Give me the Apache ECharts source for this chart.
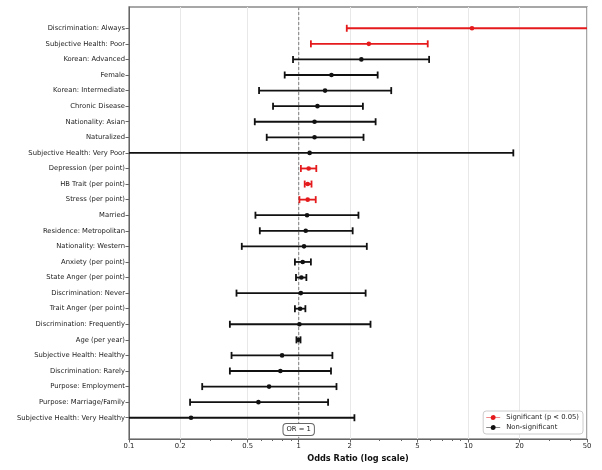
<!DOCTYPE html>
<html>
<head>
<meta charset="utf-8">
<script src="https://cdn.jsdelivr.net/npm/echarts@6/dist/echarts.min.js"></script>
<style>
html,body{margin:0;padding:0;background:#fff;}
#chart{width:602px;height:470px;}
</style>
</head>
<body>
<div id="chart"></div>
<script>
// ---- data (top to bottom) ----
var categories = [
  'Discrimination: Always',
  'Subjective Health: Poor',
  'Korean: Advanced',
  'Female',
  'Korean: Intermediate',
  'Chronic Disease',
  'Nationality: Asian',
  'Naturalized',
  'Subjective Health: Very Poor',
  'Depression (per point)',
  'HB Trait (per point)',
  'Stress (per point)',
  'Married',
  'Residence: Metropolitan',
  'Nationality: Western',
  'Anxiety (per point)',
  'State Anger (per point)',
  'Discrimination: Never',
  'Trait Anger (per point)',
  'Discrimination: Frequently',
  'Age (per year)',
  'Subjective Health: Healthy',
  'Discrimination: Rarely',
  'Purpose: Employment',
  'Purpose: Marriage/Family',
  'Subjective Health: Very Healthy'
];
var oddsRatio = [10.5, 2.59, 2.34, 1.56, 1.43, 1.29, 1.24, 1.24, 1.16, 1.145, 1.13, 1.13, 1.12, 1.10, 1.075, 1.056, 1.037, 1.03, 1.02, 1.01, 0.995, 0.798, 0.78, 0.669, 0.579, 0.232];
var ciLower   = [1.92, 1.18, 0.926, 0.827, 0.584, 0.706, 0.551, 0.648, 0.05, 1.03, 1.085, 1.01, 0.556, 0.590, 0.462, 0.95, 0.964, 0.43, 0.95, 0.393, 0.97, 0.402, 0.393, 0.27, 0.229, 0.05];
var ciUpper   = [60, 5.76, 5.87, 2.92, 3.51, 2.39, 2.84, 2.41, 18.4, 1.27, 1.19, 1.26, 2.25, 2.08, 2.52, 1.18, 1.11, 2.48, 1.095, 2.65, 1.025, 1.58, 1.55, 1.67, 1.49, 2.13];
var significant = [true, true, false, false, false, false, false, false, false, true, true, true, false, false, false, false, false, false, false, false, false, false, false, false, false, false];
var tickValues = [0.1, 0.2, 0.5, 1, 2, 5, 10, 20, 50];
var tickLabels = ['0.1', '0.2', '0.5', '1', '2', '5', '10', '20', '50'];
var minorTickValues = [0.3, 0.4, 0.6, 0.7, 0.8, 0.9, 3, 4, 6, 7, 8, 9, 30, 40];
var referenceOR = 1;
var seriesNames = ['Significant (p < 0.05)', 'Non-significant'];
var seriesColors = ['#e41a1c', '#111111'];

// ---- build ----
var L = Math.log10;
var xMin = L(0.1), xMax = L(50);
var nRows = categories.length;
var pad = 1.365;

function rows(sig) {
  var out = [];
  for (var i = 0; i < nRows; i++) {
    if (significant[i] === sig) out.push([L(ciLower[i]), L(ciUpper[i]), L(oddsRatio[i]), i]);
  }
  return out;
}

function makeRender(color) {
  return function (params, api) {
    var lo = api.coord([api.value(0), api.value(3)]);
    var hi = api.coord([api.value(1), api.value(3)]);
    var pt = api.coord([api.value(2), api.value(3)]);
    var cap = 3.5;
    var ls = {stroke: color, lineWidth: 1.8};
    return {
      type: 'group',
      children: [
        {type: 'line', shape: {x1: lo[0], y1: lo[1], x2: hi[0], y2: hi[1]}, style: ls},
        {type: 'line', shape: {x1: lo[0], y1: lo[1] - cap, x2: lo[0], y2: lo[1] + cap}, style: ls},
        {type: 'line', shape: {x1: hi[0], y1: hi[1] - cap, x2: hi[0], y2: hi[1] + cap}, style: ls},
        {type: 'circle', shape: {cx: pt[0], cy: pt[1], r: 2.3}, style: {fill: color}}
      ]
    };
  };
}

function fmtTick(v) {
  for (var i = 0; i < tickValues.length; i++) {
    if (Math.abs(L(tickValues[i]) - v) < 1e-6) return tickLabels[i];
  }
  return '';
}

var font = 'DejaVu Sans';
var fs = 6.8;
var chart = echarts.init(document.getElementById('chart'), null, {renderer: 'canvas'});
var option = {
  animation: false,
  backgroundColor: '#ffffff',
  textStyle: {fontFamily: font},
  grid: {left: 129, right: 15, top: 7, bottom: 31, show: true, borderColor: '#8a8a8a', borderWidth: 1.5, backgroundColor: 'transparent'},
  xAxis: [{
    type: 'value', min: xMin, max: xMax,
    name: 'Odds Ratio (log scale)', nameLocation: 'middle', nameGap: 15,
    nameTextStyle: {fontFamily: font, fontWeight: 'bold', fontSize: 8.2, color: '#111'},
    axisLine: {show: true, onZero: false, lineStyle: {color: '#666', width: 1}},
    axisTick: {show: true, length: 3.5, customValues: tickValues.map(L), lineStyle: {color: '#666'}},
    axisLabel: {customValues: tickValues.map(L), formatter: fmtTick, fontFamily: font, fontSize: fs, color: '#222', margin: 4},
    splitLine: {show: true, lineStyle: {color: '#e8e8e8', width: 1}}
  }, {
    type: 'value', min: xMin, max: xMax, position: 'bottom', gridIndex: 0,
    axisLine: {show: false, onZero: false},
    axisTick: {show: true, length: 2, customValues: minorTickValues.map(L), lineStyle: {color: '#666'}},
    axisLabel: {show: false},
    splitLine: {show: false}
  }],
  yAxis: {
    type: 'value', inverse: true, min: -pad, max: nRows - 1 + pad,
    axisLine: {show: true, onZero: false, lineStyle: {color: '#666', width: 1}},
    axisTick: {show: true, length: 3.5, customValues: categories.map(function (c, i) { return i; }), lineStyle: {color: '#666'}},
    axisLabel: {customValues: categories.map(function (c, i) { return i; }), formatter: function (v) { return categories[Math.round(v)]; }, fontFamily: font, fontSize: fs, color: '#222', margin: 4},
    splitLine: {show: false}
  },
  legend: {
    data: seriesNames.map(function (n) { return {name: n}; }),
    orient: 'vertical', right: 19, bottom: 36,
    backgroundColor: '#fff', borderColor: '#cccccc', borderWidth: 1, borderRadius: 3,
    padding: [3, 4, 3, 3], itemGap: 3, itemWidth: 14, itemHeight: 5,
    icon: 'path://M0,2.2L14,2.2L14,2.8L0,2.8Z M7,0A2.5,2.5,0,1,1,6.99,0Z',
    textStyle: {fontFamily: font, fontSize: fs, color: '#222', padding: [0, 0, 0, 1]}
  },
  series: [{
    name: 'OR = 1 reference', type: 'line', silent: true, symbol: 'none', z: 2,
    data: [[L(referenceOR), -pad], [L(referenceOR), nRows - 1 + pad]],
    lineStyle: {color: '#888', type: [3, 2], width: 1.1}
  }, {
    name: seriesNames[0], type: 'custom', clip: true,
    itemStyle: {color: seriesColors[0]},
    data: rows(true), renderItem: makeRender(seriesColors[0]),
    encode: {x: [0, 1, 2], y: 3}, z: 3
  }, {
    name: seriesNames[1], type: 'custom', clip: true,
    itemStyle: {color: seriesColors[1]},
    data: rows(false), renderItem: makeRender(seriesColors[1]),
    encode: {x: [0, 1, 2], y: 3}, z: 3
  }]
};
chart.setOption(option);
var px = chart.convertToPixel({xAxisIndex: 0, yAxisIndex: 0}, [L(referenceOR), nRows - 1 + 0.75]);
chart.setOption({
  graphic: [{
    type: 'text', x: px[0], y: px[1], z: 10,
    style: {
      text: 'OR = 1', fontFamily: font, fontSize: fs, fill: '#222',
      align: 'center', verticalAlign: 'middle',
      backgroundColor: '#fff', borderColor: '#666', borderWidth: 1, borderRadius: 3, padding: [2, 3]
    }
  }]
});
</script>
</body>
</html>
